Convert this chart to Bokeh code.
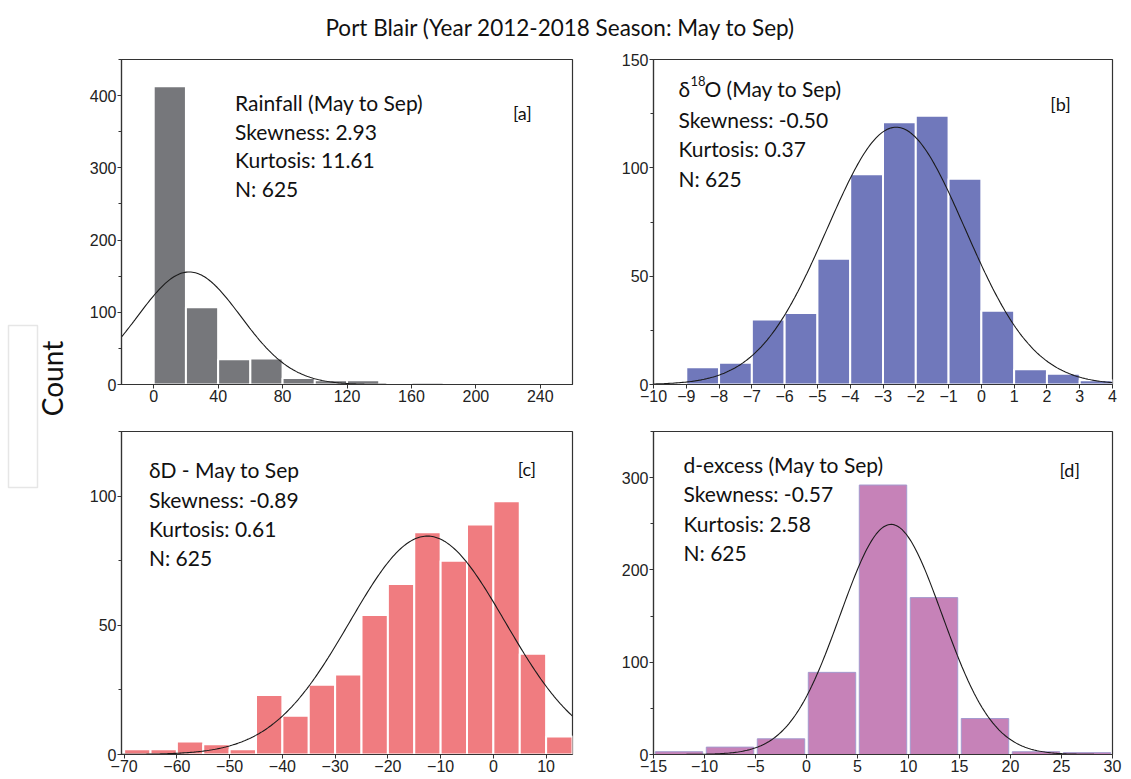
import numpy as np
from bokeh.plotting import figure
from bokeh.models import Range1d, FixedTicker, Label
from bokeh.layouts import column, row
from bokeh.embed import file_html
from bokeh.resources import INLINE
from bokeh.core.properties import value

TITLE = "Port Blair (Year 2012-2018 Season: May to Sep)"
N_OBS = 625

# ---- data ----
rain_edges = [0, 20, 40, 60, 80, 100, 120, 140, 160, 180, 200, 220, 240]
rain_counts = [413, 107, 35, 36, 9, 6, 6, 1, 3, 0, 1, 0]
rain_fit = (22.0, 32.0)      # mean, sd of fitted normal

d18o_edges = [-10, -9, -8, -7, -6, -5, -4, -3, -2, -1, 0, 1, 2, 3, 4]
d18o_counts = [0, 8, 10, 30, 33, 58, 97, 121, 124, 95, 34, 7, 5, 2]
d18o_fit = (-2.6, 2.1)

dD_edges = [-70, -65, -60, -55, -50, -45, -40, -35, -30, -25, -20, -15, -10, -5, 0, 5, 10, 15]
dD_counts = [2, 2, 5, 4, 2, 23, 15, 27, 31, 54, 66, 86, 75, 89, 98, 39, 7]
dD_fit = (-12.5, 14.75)

dex_edges = [-15, -10, -5, 0, 5, 10, 15, 20, 25, 30]
dex_counts = [3, 8, 17, 89, 292, 170, 39, 3, 2]
dex_fit = (8.3, 5.0)

rain_xticks = [0, 40, 80, 120, 160, 200, 240]
d18o_xticks = list(range(-10, 5))
dD_xticks = [-70, -60, -50, -40, -30, -20, -10, 0, 10]
dex_xticks = [-15, -10, -5, 0, 5, 10, 15, 20, 25, 30]

TEXT_FONT = "Lato"
TICK_FONT = "Liberation Sans"
TEXT_SIZE = "21px"


def normal_curve(edges, fit, xr):
    mu, sd = fit
    bw = edges[1] - edges[0]
    xs = np.linspace(xr[0], xr[1], 300)
    ys = N_OBS * bw * np.exp(-0.5 * ((xs - mu) / sd) ** 2) / (sd * np.sqrt(2 * np.pi))
    return xs, ys


def panel(width, height, bl, br, bt, bb, xr, yr, xticks, yticks):
    p = figure(width=width, height=height, x_range=Range1d(*xr), y_range=Range1d(*yr),
               output_backend="svg", toolbar_location=None,
               min_border_left=bl, min_border_right=br, min_border_top=bt, min_border_bottom=bb)
    p.grid.visible = False
    p.outline_line_color = "#333333"
    p.outline_line_width = 1.2
    p.background_fill_color = "white"
    p.xaxis.ticker = FixedTicker(ticks=xticks)
    yminor = [(yticks[i] + yticks[i + 1]) / 2 for i in range(len(yticks) - 1)]
    if yr[1] > yticks[-1]:
        yminor.append(yticks[-1] + (yticks[1] - yticks[0]) / 2)
    p.yaxis.ticker = FixedTicker(ticks=yticks, minor_ticks=yminor)
    for ax in (p.xaxis[0], p.yaxis[0]):
        ax.axis_line_color = "#333333"
        ax.axis_line_width = 1.2
        ax.major_tick_line_color = "#333333"
        ax.minor_tick_line_color = "#333333"
        ax.major_tick_in = 0
        ax.major_tick_out = 4
        ax.minor_tick_in = 0
        ax.minor_tick_out = 3
        ax.major_label_text_font = TICK_FONT
        ax.major_label_text_font_size = "16px"
        ax.major_label_text_color = "#222222"
        ax.major_label_standoff = 1
    p.xaxis.minor_tick_out = 0
    return p


def add_texts(p, x, ys, lines, tag, tag_xy):
    for y, t in zip(ys, lines):
        if t is None:
            continue
        p.add_layout(Label(x=x, y=y, text=t, text_font=TEXT_FONT, text_font_size=TEXT_SIZE,
                           text_baseline="middle", text_align="left", text_color="#111111"))
    p.add_layout(Label(x=tag_xy[0], y=tag_xy[1], text=tag, text_font=TEXT_FONT,
                       text_font_size="18px", text_baseline="middle", text_align="left",
                       text_color="#111111"))


W_L, W_R = 532, 523
H1, H2 = 373, 358
CW = 68

# ---- panel a ----
xr_a, yr_a = (-20, 260), (0, 450)
pa = panel(W_L, H1, 53, 28, 15, 33, xr_a, yr_a, rain_xticks, [0, 100, 200, 300, 400])
pa.quad(left=rain_edges[:-1], right=rain_edges[1:], top=rain_counts, bottom=0,
        fill_color="#76777b", line_color="white", line_width=2)
xs, ys = normal_curve(rain_edges, rain_fit, xr_a)
pa.line(xs, ys, line_color="#1a1a1a", line_width=1.1)
add_texts(pa, 50.5, [390, 351, 311, 272],
          ["Rainfall (May to Sep)", "Skewness: 2.93", "Kurtosis: 11.61", "N: 625"],
          "[a]", (223, 376))

# ---- panel b ----
xr_b, yr_b = (-10, 4), (0, 150)
pb = panel(W_R, H1, 53, 11, 15, 33, xr_b, yr_b, d18o_xticks, [0, 50, 100, 150])
pb.quad(left=d18o_edges[:-1], right=d18o_edges[1:], top=d18o_counts, bottom=0,
        fill_color="#7078bb", line_color="white", line_width=2)
xs, ys = normal_curve(d18o_edges, d18o_fit, xr_b)
pb.line(xs, ys, line_color="#1a1a1a", line_width=1.1)
add_texts(pb, -9.24, [136.7, 122.4, 109.0, 95.3],
          [None, "Skewness: -0.50", "Kurtosis: 0.37", "N: 625"],
          "[b]", (2.1, 129.3))
pb.add_layout(Label(x=-9.24, y=136.7, text="δ", text_font=TEXT_FONT, text_font_size=TEXT_SIZE,
                    text_baseline="middle", text_color="#111111"))
pb.add_layout(Label(x=-9.24, y=136.7, x_offset=12, y_offset=7, text="18", text_font=TEXT_FONT,
                    text_font_size="13px", text_baseline="middle", text_color="#111111"))
pb.add_layout(Label(x=-9.24, y=136.7, x_offset=26, text="O (May to Sep)", text_font=TEXT_FONT,
                    text_font_size=TEXT_SIZE, text_baseline="middle", text_color="#111111"))

# ---- panel c ----
xr_c, yr_c = (-70.5, 15), (0, 125)
pc = panel(W_L, H2, 53, 28, 14, 21, xr_c, yr_c, dD_xticks, [0, 50, 100])
pc.quad(left=dD_edges[:-1], right=dD_edges[1:], top=dD_counts, bottom=0,
        fill_color="#f07c80", line_color="white", line_width=2)
xs, ys = normal_curve(dD_edges, dD_fit, xr_c)
pc.line(xs, ys, line_color="#1a1a1a", line_width=1.1)
add_texts(pc, -65.3, [110.4, 98.8, 87.3, 76.2],
          ["δD - May to Sep", "Skewness: -0.89", "Kurtosis: 0.61", "N: 625"],
          "[c]", (4.6, 110.4))

# ---- panel d ----
xr_d, yr_d = (-15, 30), (0, 350)
pd_ = panel(W_R, H2, 53, 11, 14, 21, xr_d, yr_d, dex_xticks, [0, 100, 200, 300])
dex_centers = [(dex_edges[i] + dex_edges[i + 1]) / 2 for i in range(len(dex_counts))]
pd_.vbar(x=dex_centers, width=(dex_edges[1] - dex_edges[0]) * 0.93, top=dex_counts, bottom=0,
         fill_color="#c682b8", line_color="#a49ace", line_width=1)
xs, ys = normal_curve(dex_edges, dex_fit, xr_d)
pd_.line(xs, ys, line_color="#1a1a1a", line_width=1.1)
add_texts(pd_, -12.06, [314.7, 282.5, 250.3, 219.0],
          ["d-excess (May to Sep)", "Skewness: -0.57", "Kurtosis: 2.58", "N: 625"],
          "[d]", (24.8, 308))

# ---- title strip ----
TW = CW + W_L + W_R
TH = 44
pt = figure(width=TW, height=TH, x_range=Range1d(0, TW), y_range=Range1d(TH, 0),
            output_backend="svg", toolbar_location=None, min_border=0)
pt.axis.visible = False
pt.grid.visible = False
pt.outline_line_color = None
pt.add_layout(Label(x=560, y=27, text=TITLE, text_font=TEXT_FONT, text_font_size="22.5px",
                    text_align="center", text_baseline="middle", text_color="#111111"))

# ---- Count strip ----
CH = H1 + H2
pcnt = figure(width=CW, height=CH, x_range=Range1d(0, CW), y_range=Range1d(CH, 0),
              output_backend="svg", toolbar_location=None, min_border=0)
pcnt.axis.visible = False
pcnt.grid.visible = False
pcnt.outline_line_color = None
pcnt.rect(x=[22.5], y=[406 - TH], width=[29], height=[162], fill_color="white",
          line_color="#e6e6e6", line_width=1.5)
pcnt.add_layout(Label(x=51, y=378 - TH, text="Count", angle=np.pi / 2, text_font=TEXT_FONT,
                      text_font_size="28px", text_align="center", text_baseline="middle",
                      text_color="#111111"))

layout = column(pt, row(pcnt, column(row(pa, pb), row(pc, pd_))))
open("out.html", "w").write(file_html(layout, INLINE))
